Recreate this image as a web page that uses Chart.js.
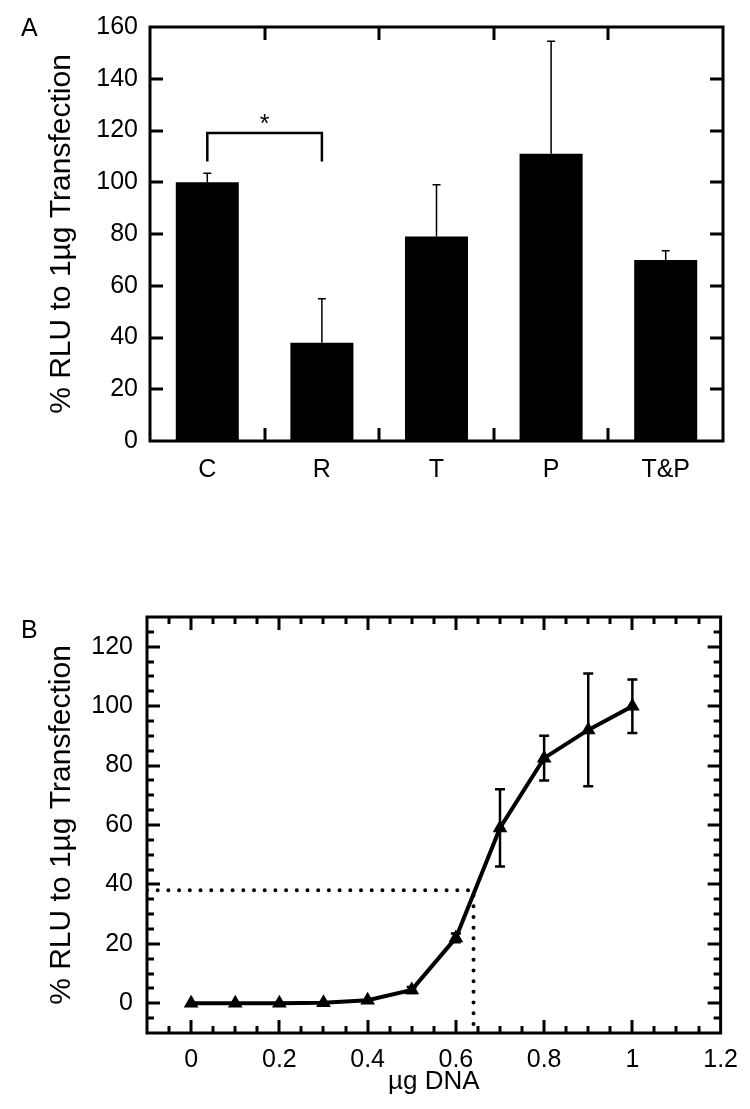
<!DOCTYPE html>
<html>
<head>
<meta charset="utf-8">
<script src="https://cdn.jsdelivr.net/npm/chart.js@4.4.1/dist/chart.umd.min.js"></script>
<style>
  body { margin: 0; background: #fff; width: 750px; height: 1109px; position: relative; overflow: hidden; font-family: "Liberation Sans", Arial, sans-serif; }
  .panel { position: absolute; left: 0; width: 750px; }
  #wrapA { top: 0; height: 500px; }
  #wrapB { top: 520px; height: 589px; }
  .tag { position: absolute; font-size: 25px; line-height: 25px; color: #000; }
</style>
</head>
<body>
<div class="panel" id="wrapA"><canvas id="chartA"></canvas></div>
<div class="panel" id="wrapB"><canvas id="chartB"></canvas></div>
<div class="tag" style="left:21px; top:15px;">A</div>
<div class="tag" style="left:21px; top:617px;">B</div>

<script>
// --- datos panel A ---
const groupsA = ['C', 'R', 'T', 'P', 'T&P'];
const meanA = [100, 38, 79, 111, 70];
const errA = [3.5, 17, 20, 43.5, 3.5];
const yTicksA = [0, 20, 40, 60, 80, 100, 120, 140, 160];
// corchete de significancia entre C y R
const sigPair = ['C', 'R'];
const sigTop = 119;
const sigLeg = 108;

// --- datos panel B ---
const doseB = [0, 0.1, 0.2, 0.3, 0.4, 0.5, 0.6, 0.7, 0.8, 0.9, 1.0];
const rluB = [0, 0, 0, 0.2, 1, 4.5, 22, 59, 82.5, 92, 100];
const errB = [0, 0, 0, 0, 0, 1, 1.5, 13, 7.5, 19, 9];
const xTicksB = [0, 0.2, 0.4, 0.6, 0.8, 1, 1.2];
const yTicksB = [0, 20, 40, 60, 80, 100, 120];
const guideX = [-0.1, 0.64, 0.64];
const guideY = [38, 38, -10];

const FAMILY = '"Liberation Sans", Arial, sans-serif';
const FONT = { family: FAMILY, size: 25 };
const TITLE_FONT = { family: FAMILY, size: 30, lineHeight: 1.2 };
Chart.defaults.font.family = FAMILY;
Chart.defaults.color = '#000';

// marco + ticks hacia dentro en los 4 lados
const frameTicks = {
    id: 'frameTicks',
    afterDatasetsDraw(chart, args, opts) {
        const { ctx, chartArea: { left, right, top, bottom } } = chart;
        const xs = chart.scales.x, ys = chart.scales.y;
        ctx.save();
        ctx.strokeStyle = '#000';
        ctx.lineCap = 'butt';
        ctx.lineWidth = opts.tickWidth;
        ctx.beginPath();
        (opts.yMarks || []).forEach(m => {
            const py = Math.round(ys.getPixelForValue(m.v));
            ctx.moveTo(left, py); ctx.lineTo(left + m.len, py);
            ctx.moveTo(right, py); ctx.lineTo(right - m.len, py);
        });
        (opts.xMarks || []).forEach(m => {
            const px = Math.round(xs.getPixelForValue(m.v));
            ctx.moveTo(px, bottom); ctx.lineTo(px, bottom - m.len);
            ctx.moveTo(px, top); ctx.lineTo(px, top + m.len);
        });
        ctx.stroke();
        ctx.lineWidth = opts.frameWidth;
        ctx.lineJoin = 'miter';
        ctx.strokeRect(left, top, right - left, bottom - top);
        ctx.restore();
    }
};

// barras de error panel A (solo hacia arriba) + corchete
const barExtras = {
    id: 'barExtras',
    afterDatasetsDraw(chart) {
        const { ctx } = chart;
        const ys = chart.scales.y, xs = chart.scales.x;
        const meta = chart.getDatasetMeta(0);
        ctx.save();
        ctx.strokeStyle = '#000';
        ctx.lineWidth = 1.5;
        meta.data.forEach((bar, i) => {
            const yTop = ys.getPixelForValue(meanA[i] + errA[i]);
            ctx.beginPath();
            ctx.moveTo(bar.x, bar.y);
            ctx.lineTo(bar.x, yTop);
            ctx.moveTo(bar.x - 4, yTop);
            ctx.lineTo(bar.x + 4, yTop);
            ctx.stroke();
        });
        const x1 = xs.getPixelForValue(groupsA.indexOf(sigPair[0]));
        const x2 = xs.getPixelForValue(groupsA.indexOf(sigPair[1]));
        const yT = ys.getPixelForValue(sigTop), yL = ys.getPixelForValue(sigLeg);
        ctx.lineWidth = 2.5;
        ctx.beginPath();
        ctx.moveTo(x1, yL); ctx.lineTo(x1, yT); ctx.lineTo(x2, yT); ctx.lineTo(x2, yL);
        ctx.stroke();
        ctx.fillStyle = '#000';
        ctx.font = `${FONT.size}px ${FAMILY}`;
        ctx.textAlign = 'center';
        ctx.textBaseline = 'alphabetic';
        ctx.fillText('*', (x1 + x2) / 2, yT - 1);
        ctx.restore();
    }
};

// barras de error panel B (simetricas)
const pointErrors = {
    id: 'pointErrors',
    beforeDatasetsDraw(chart) {
        const { ctx } = chart;
        const xs = chart.scales.x, ys = chart.scales.y;
        ctx.save();
        ctx.strokeStyle = '#000';
        ctx.lineWidth = 2.5;
        doseB.forEach((d, i) => {
            if (!errB[i]) return;
            const px = xs.getPixelForValue(d);
            const hi = ys.getPixelForValue(rluB[i] + errB[i]);
            const lo = ys.getPixelForValue(rluB[i] - errB[i]);
            ctx.beginPath();
            ctx.moveTo(px, lo); ctx.lineTo(px, hi);
            ctx.moveTo(px - 5, hi); ctx.lineTo(px + 5, hi);
            ctx.moveTo(px - 5, lo); ctx.lineTo(px + 5, lo);
            ctx.stroke();
        });
        ctx.restore();
    }
};

const noGrid = { display: false, drawTicks: false };

// --- marcas de ticks ---
const xMarksA = [];
for (let i = 1; i < groupsA.length; i++) xMarksA.push({ v: i - 0.5, len: 13 });
const yMarksA = yTicksA.slice(1, -1).map(v => ({ v, len: 13 }));

const xMarksB = [];
for (let k = -1; k < 24; k++) {
    const v = Math.round(k * 5) / 100;
    if (v <= -0.1 || v >= 1.2) continue;
    const major = Math.abs(Math.round(v * 100) % 20) === 0;
    xMarksB.push({ v, len: major ? 13 : 7 });
}
const yMarksB = [];
for (let v = -5; v < 130; v += 5) yMarksB.push({ v, len: v % 20 === 0 ? 13 : 7 });

new Chart(document.getElementById('chartA'), {
    type: 'bar',
    data: {
        labels: groupsA,
        datasets: [{
            data: meanA,
            backgroundColor: '#000',
            borderWidth: 0,
            barPercentage: 0.55,
            categoryPercentage: 1
        }]
    },
    options: {
        responsive: true,
        maintainAspectRatio: false,
        animation: false,
        layout: { padding: { left: 44, top: 24, right: 27, bottom: 0 } },
        plugins: {
            legend: { display: false },
            tooltip: { enabled: false },
            frameTicks: { xMarks: xMarksA, yMarks: yMarksA, tickWidth: 3, frameWidth: 3 }
        },
        scales: {
            x: {
                grid: noGrid,
                border: { display: false },
                ticks: { color: '#000', font: FONT, padding: 14, maxRotation: 0 },
                afterFit(s) { s.height = 59; }
            },
            y: {
                min: 0,
                max: 160,
                grid: noGrid,
                border: { display: false },
                afterBuildTicks(s) { s.ticks = yTicksA.map(v => ({ value: v })); },
                ticks: { color: '#000', font: FONT, padding: 12 },
                title: { display: true, text: '% RLU to 1µg Transfection', color: '#000', font: TITLE_FONT, padding: 0 },
                afterFit(s) { s.width = 106; }
            }
        }
    },
    plugins: [frameTicks, barExtras]
});

new Chart(document.getElementById('chartB'), {
    type: 'line',
    data: {
        datasets: [{
            data: doseB.map((d, i) => ({ x: d, y: rluB[i] })),
            borderColor: '#000',
            borderWidth: 4,
            pointStyle: 'triangle',
            pointRadius: 8.5,
            pointBackgroundColor: '#000',
            pointBorderWidth: 0,
            tension: 0
        }, {
            data: guideX.map((d, i) => ({ x: d, y: guideY[i] })),
            borderColor: '#000',
            borderWidth: 4,
            borderDash: [0, 10.7],
            borderCapStyle: 'round',
            pointRadius: 0,
            tension: 0
        }]
    },
    options: {
        responsive: true,
        maintainAspectRatio: false,
        animation: false,
        layout: { padding: { left: 44, top: 97, right: 29, bottom: 0 } },
        plugins: {
            legend: { display: false },
            tooltip: { enabled: false },
            frameTicks: { xMarks: xMarksB, yMarks: yMarksB, tickWidth: 3, frameWidth: 3 }
        },
        scales: {
            x: {
                type: 'linear',
                min: -0.1,
                max: 1.2,
                grid: noGrid,
                border: { display: false },
                afterBuildTicks(s) { s.ticks = xTicksB.map(v => ({ value: v })); },
                ticks: { color: '#000', font: FONT, padding: 12, maxRotation: 0, callback: v => String(v) },
                title: { display: true, text: 'µg DNA', color: '#000', font: { family: FAMILY, size: 26 }, padding: { top: 0, bottom: 12 } },
                afterFit(s) { s.height = 76; }
            },
            y: {
                min: -10,
                max: 130,
                grid: noGrid,
                border: { display: false },
                afterBuildTicks(s) { s.ticks = yTicksB.map(v => ({ value: v })); },
                ticks: { color: '#000', font: FONT, padding: 14 },
                title: { display: true, text: '% RLU to 1µg Transfection', color: '#000', font: TITLE_FONT, padding: 0 },
                afterFit(s) { s.width = 103; }
            }
        }
    },
    plugins: [frameTicks, pointErrors]
});
</script>
</body>
</html>
